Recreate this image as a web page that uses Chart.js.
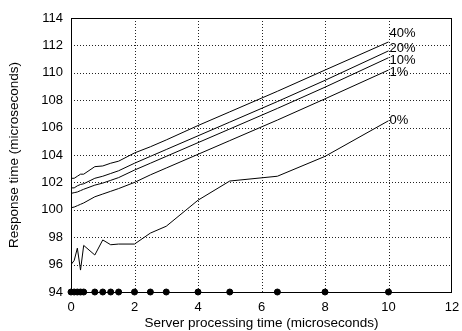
<!DOCTYPE html>
<html>
<head>
<meta charset="utf-8">
<script src="https://cdn.jsdelivr.net/npm/chart.js@4/dist/chart.umd.min.js"></script>
<style>
    html, body { margin: 0; padding: 0; background: #fff; }
    #wrap { width: 462px; height: 331px; }
</style>
</head>
<body>
<div id="wrap"><canvas id="chart"></canvas></div>
<script>
// Server processing time (microseconds) for each measurement
const processingTimes = [0, 0.1, 0.2, 0.3, 0.4, 0.75, 1, 1.25, 1.5, 2, 2.5, 3, 4, 5, 6.5, 8, 10];

// Response time (microseconds) per load level
const seriesNames = ['40%', '20%', '10%', '1%', '0%'];
const load40 = [102.3, 102.3, 102.45, 102.6, 102.6, 103.15, 103.2, 103.4, 103.55, 104.15, 104.6, 105.1, 106.15, 107.15, 108.65, 110.2, 112.25];
const load20 = [101.6, 101.6, 101.75, 101.85, 101.9, 102.3, 102.45, 102.65, 102.85, 103.4, 103.9, 104.4, 105.4, 106.4, 107.9, 109.45, 111.6];
const load10 = [101.2, 101.25, 101.3, 101.4, 101.5, 101.8, 101.95, 102.15, 102.35, 102.9, 103.4, 103.9, 104.9, 105.9, 107.4, 108.95, 111.1];
const load1 = [100.15, 100.2, 100.3, 100.4, 100.5, 100.95, 101.15, 101.35, 101.55, 102.0, 102.55, 103.05, 104.05, 105.05, 106.55, 108.1, 110.2];
const load0 = [96.0, 96.3, 97.2, 95.6, 97.4, 96.7, 97.8, 97.45, 97.5, 97.5, 98.3, 98.8, 100.7, 102.1, 102.45, 103.9, 106.5];
const seriesValues = [load40, load20, load10, load1, load0];

// where each series label sits (response time at x = 10)
const labelValues = [112.85, 111.75, 110.9, 110.05, 106.55];

// tick labels
const xTicks = [0, 2, 4, 6, 8, 10, 12];
const yTicks = [94, 96, 98, 100, 102, 104, 106, 108, 110, 112, 114];

const FONT = { family: '"Liberation Sans", Arial, sans-serif', size: 13 };
const TITLE_FONT = { family: FONT.family, size: 13.5 };

// Line datasets, one per load level
const lineSets = seriesValues.map((vals, i) => ({
    label: seriesNames[i],
    data: vals.map((v, j) => ({ x: processingTimes[j], y: v })),
    borderColor: '#000',
    borderWidth: 1,
    pointRadius: 0,
    tension: 0,
    fill: false
}));

// Measurement markers along the x axis
const markerSet = {
    label: 'samples',
    data: processingTimes.map(x => ({ x: x, y: yTicks[0] })),
    showLine: false,
    pointRadius: 3,
    pointBackgroundColor: '#000',
    pointBorderColor: '#000',
    clip: false
};

// Dotted grid, drawn from the scales' own tick positions
const dottedGrid = {
    id: 'dottedGrid',
    beforeDatasetsDraw(chart) {
        const { ctx, chartArea: a, scales } = chart;
        ctx.save();
        ctx.strokeStyle = '#222';
        ctx.lineWidth = 1;
        ctx.setLineDash([1, 2]);
        ctx.beginPath();
        xTicks.slice(1, -1).forEach(v => {
            const px = Math.round(scales.x.getPixelForValue(v)) + 0.5;
            ctx.moveTo(px, a.top);
            ctx.lineTo(px, a.bottom);
        });
        yTicks.slice(1, -1).forEach(v => {
            const py = Math.round(scales.y.getPixelForValue(v)) + 0.5;
            ctx.moveTo(a.left, py);
            ctx.lineTo(a.right, py);
        });
        ctx.stroke();
        ctx.restore();
    }
};

// Draws the plot frame and the series labels at the line ends
const framePlugin = {
    id: 'frameAndLabels',
    afterDraw(chart) {
        const { ctx, chartArea: a, scales } = chart;
        ctx.save();
        ctx.setLineDash([]);
        ctx.strokeStyle = '#000';
        ctx.lineWidth = 1;
        ctx.strokeRect(Math.round(a.left) + 0.5, Math.round(a.top) + 0.5,
            Math.round(a.right - a.left) - 1, Math.round(a.bottom - a.top));

        ctx.fillStyle = '#000';
        ctx.font = FONT.size + 'px ' + FONT.family;
        ctx.textAlign = 'left';
        ctx.textBaseline = 'middle';
        const xEnd = processingTimes[processingTimes.length - 1];
        seriesNames.forEach((name, i) => {
            ctx.fillText(name, scales.x.getPixelForValue(xEnd) + 1, scales.y.getPixelForValue(labelValues[i]));
        });
        ctx.restore();
    }
};

new Chart(document.getElementById('chart').getContext('2d'), {
    type: 'line',
    data: { datasets: [...lineSets, markerSet] },
    options: {
        responsive: true,
        maintainAspectRatio: false,
        animation: false,
        layout: { padding: { top: 18, right: 10, left: 0, bottom: 0 } },
        plugins: {
            legend: { display: false },
            tooltip: { enabled: false }
        },
        scales: {
            x: {
                type: 'linear',
                min: xTicks[0],
                max: xTicks[xTicks.length - 1],
                afterBuildTicks: s => { s.ticks = xTicks.map(v => ({ value: v })); },
                afterFit: s => {
                    s.height = 39;
                    s.paddingLeft = 0;
                    s.paddingRight = 0;
                },
                grid: { display: false, drawTicks: false },
                border: { display: false },
                ticks: { color: '#000', font: FONT, padding: 8, maxRotation: 0 },
                title: {
                    display: true,
                    text: 'Server processing time (microseconds)',
                    color: '#000',
                    font: TITLE_FONT,
                    padding: { top: 0, bottom: 0 }
                }
            },
            y: {
                type: 'linear',
                min: yTicks[0],
                max: yTicks[yTicks.length - 1],
                afterBuildTicks: s => { s.ticks = yTicks.map(v => ({ value: v })); },
                afterFit: s => { s.width = 71; },
                grid: { display: false, drawTicks: false },
                border: { display: false },
                ticks: { color: '#000', font: FONT, padding: 8 },
                title: {
                    display: true,
                    text: 'Response time (microseconds)',
                    color: '#000',
                    font: TITLE_FONT,
                    padding: { top: 6, bottom: 0 }
                }
            }
        }
    },
    plugins: [dottedGrid, framePlugin]
});
</script>
</body>
</html>
